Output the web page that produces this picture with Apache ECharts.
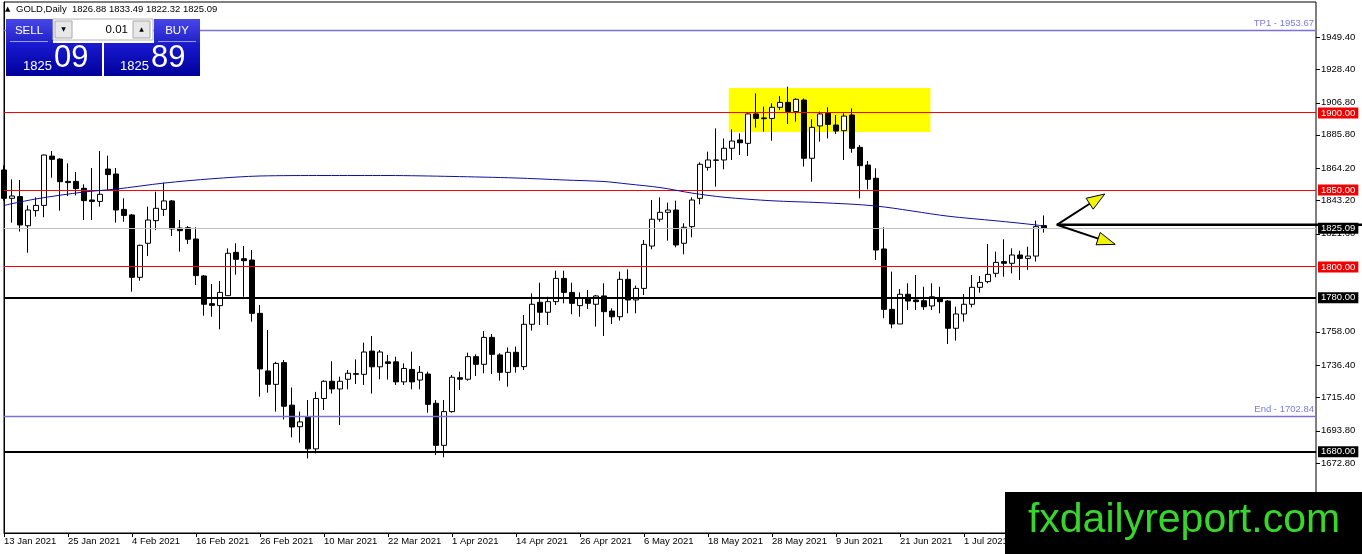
<!DOCTYPE html>
<html><head><meta charset="utf-8">
<script src="https://cdn.jsdelivr.net/npm/echarts@6/dist/echarts.min.js"></script>
<style>html,body{margin:0;padding:0;background:#fff;}#c{width:1362px;height:554px;}</style>
</head><body><div id="c"></div>
<script>
// ---- data (GOLD, Daily) ----
const opens = [1863,1844.6,1845.7,1826.8,1836.6,1840,1872,1870.1,1855.6,1855.6,
1851.1,1843.5,1842.6,1863.6,1860.4,1837.4,1833.8,1793.3,1815.4,1830.1,
1837.4,1842.9,1825.3,1825.5,1818.2,1794.2,1776.2,1774.9,1781.4,1809.5,
1805.4,1804.5,1769.9,1732.5,1723.8,1737.9,1710.3,1696.3,1702.8,1681.9,
1714.6,1725.8,1720.8,1727.1,1730.3,1730.3,1745.4,1735.2,1738.4,1738.4,
1725.4,1733.5,1726.6,1730.5,1711.5,1684.2,1706.1,1728.1,1727.1,1741.8,
1736.8,1754.3,1742.9,1731.6,1744.6,1735.3,1762.8,1777.1,1770.6,1777.5,
1792.6,1783.5,1774.9,1779.7,1775.8,1781.2,1771.4,1767.7,1792,1778.6,
1786.1,1813.6,1831,1835.5,1837,1815.4,1826.2,1844.6,1864.7,1869.5,
1869.5,1877.1,1882.5,1880.3,1899.4,1896.8,1896.5,1903.7,1906.9,1900.9,
1908.4,1870.6,1891.6,1899.8,1892.2,1888.5,1898.7,1877.7,1866.2,1857.6,
1811.7,1772.5,1763,1782.3,1778.6,1778.1,1774.7,1779.7,1777.9,1760.2,
1769.5,1775.8,1786.8,1790.5,1795.9,1803.5,1802.4,1807.8,1805.6,1807.1,
1826.88];
const closes = [1844.6,1846.1,1827.3,1837,1840,1872.7,1869.9,1855.4,1854.8,1850.9,
1843.1,1842.6,1847.2,1860,1837,1833.5,1793.3,1814.1,1830.5,1838.1,
1842.9,1824.7,1823.6,1818,1794.4,1775.8,1775.1,1783.5,1808.9,1805,
1804.1,1769.9,1733.8,1723.8,1737.4,1709.6,1696.1,1699.4,1681.9,1714.6,
1725.8,1720.8,1725.8,1731,1730.8,1744.8,1735.2,1744.8,1737.4,1725.4,
1734.1,1725.4,1731.6,1710.8,1684.2,1706.1,1728.4,1727.1,1741.8,1736.8,
1754.3,1743.3,1731.6,1744.6,1735.3,1762.8,1775.8,1770.6,1777.5,1792.6,
1783.5,1776.4,1779.7,1776.4,1781.2,1771,1767.7,1792,1778.6,1786.1,
1814.7,1831,1835.5,1837,1814.3,1825.8,1843.5,1866.7,1869.5,1869.3,
1877.1,1881.8,1880.7,1899.4,1896.5,1896.3,1903.7,1906.9,1900.9,1908.9,
1870.6,1890.7,1899.4,1892.6,1888.3,1898,1877.1,1865.8,1856.9,1811,
1772.5,1763,1782.3,1777.9,1777.5,1774.2,1780.7,1777.5,1760.2,1769.5,
1775.8,1786.8,1790,1795.2,1803,1802.4,1807.8,1805.6,1807.1,1826.2,
1825.09];
const lows = [1843,1828.8,1823,1809.3,1832.7,1832.3,1858,1836.6,1846.1,1846.5,
1830.5,1830.5,1839.2,1850,1828.8,1829.4,1784,1791.1,1807.1,1824,
1833.1,1820.1,1810,1815,1788.3,1768.4,1767.7,1759.5,1781.4,1795,
1780.7,1764.5,1715.8,1718.4,1706.1,1701,1689.4,1685.9,1675.7,1679,
1707.1,1717.8,1697.4,1720.6,1724,1723.4,1717.8,1727.1,1726.9,1723.4,
1723.4,1720.6,1720.6,1705.4,1677.9,1676.4,1705.4,1720.1,1726.2,1729.2,
1731,1730.5,1726.2,1722.3,1731.4,1733.1,1758.7,1762.3,1762.3,1775.3,
1776.4,1769.3,1767.7,1772.7,1761.3,1755.2,1763,1765.2,1769.9,1769.9,
1781.8,1811.5,1829.4,1817.1,1812.8,1808.2,1819.3,1840.7,1862.6,1852.2,
1863.4,1869.5,1872.7,1872.1,1890.5,1887.9,1882,1901.9,1892.9,1894.4,
1865.2,1855.4,1881.4,1883.5,1886.4,1869.5,1874.2,1844.6,1850.4,1804.5,
1766.7,1760.2,1763,1772.1,1772.1,1772.1,1772.1,1769.9,1750,1752.2,
1764.5,1773.8,1783.3,1789.4,1793.3,1793.7,1795.9,1791.6,1798.1,1803.5,
1822.32];
const highs = [1866,1856.9,1856.5,1840,1845.2,1873,1875.3,1870.6,1867.3,1861.7,
1853.7,1864.3,1875.3,1872.3,1864.3,1844.6,1834.4,1814.5,1839.2,1848.9,
1854.8,1843.5,1830.5,1826.6,1825.8,1794.8,1789,1790.9,1812.1,1815.4,
1813.6,1811,1775.3,1759.1,1738.4,1739.6,1721.8,1706.1,1713.6,1718.9,
1726.4,1738.8,1728.8,1733.1,1740,1750.9,1755.2,1746.1,1742.9,1741.8,
1737.4,1745,1735.7,1732,1713.6,1713.6,1729.9,1732,1744.4,1743.3,
1758.4,1756.5,1744,1747.8,1748.3,1768.8,1782.9,1789.8,1780.7,1797.6,
1797.6,1789.8,1783.5,1785.1,1781.8,1789.4,1773.2,1797,1798.5,1787.9,
1817.5,1843.5,1845.2,1841.8,1843.1,1828.4,1845.2,1868,1874.9,1890,
1883.5,1889.4,1886.8,1899.8,1912.8,1904.1,1906.3,1911,1917.1,1909.5,
1909.5,1895.9,1900.9,1903.7,1898.7,1899.8,1903,1879.2,1868.8,1864.1,
1825.8,1797,1785.7,1789.4,1794.8,1787.2,1789.4,1787.2,1778.6,1774.2,
1782.5,1794.8,1794.2,1814.9,1810,1818,1812.1,1810.6,1813.2,1830.1,
1833.49];
const dateLabels = ['13 Jan 2021','25 Jan 2021','4 Feb 2021','16 Feb 2021','26 Feb 2021','10 Mar 2021','22 Mar 2021','1 Apr 2021','14 Apr 2021','26 Apr 2021','6 May 2021','18 May 2021','28 May 2021','9 Jun 2021','21 Jun 2021','1 Jul 2021','13 Jul 2021'];
const yTicks = [1672.8,1693.8,1715.4,1736.4,1758.0,1821.6,1843.2,1864.2,1885.8,1906.8,1928.4,1949.4];
// moving average read at selected bars
const maIdx = [0,4,10,14,20,26,32,40,48,56,64,70,75,78,82,86,90,96,102,109,118,124,129,130];
const maVal = [1840,1844.2,1848.7,1850.6,1854.5,1857.3,1859.1,1859.4,1859.4,1858.8,1857.8,1856.5,1855.5,1853.9,1851.6,1848,1845.3,1843,1841.8,1839.6,1833,1830,1827.3,1826.4];
const redLevels = [1900, 1850, 1800];
const blackLevels = [1780, 1680];
const tp1 = 1953.67, endLevel = 1702.84, bid = 1825.09, ask = 1825.89, lot = '0.01';
const headerOHLC = [1826.88, 1833.49, 1822.32, 1825.09];
const zone = [90.6, 115.8, 1887.6, 1916.2];          // bar from, bar to, price low, price high
const arrowOrigin = [131.6, 1827.4];
const arrowTips = [[137.6, 1847.4], [138.9, 1814.7]];
const nSlots = 165;

const FONT = '"Liberation Sans", Arial, "DejaVu Sans", sans-serif';
const cats = [];
for (let i = 0; i < nSlots; i++) cats.push(i % 8 === 0 && dateLabels[i / 8] ? dateLabels[i / 8] : String(i));

const chart = echarts.init(document.getElementById('c'));
const LG = (a, b) => new echarts.graphic.LinearGradient(0, 0, 0, 1, [{offset: 0, color: a}, {offset: 1, color: b}]);

// level lines (drawn crisply by a custom series) + their axis labels (markLine labels only)
const levelVals = [], levelStyle = [];
redLevels.forEach(v => { levelVals.push(v); levelStyle.push(['#ff0000', 1]); });
blackLevels.forEach(v => { levelVals.push(v); levelStyle.push(['#000000', 2]); });
levelVals.push(bid); levelStyle.push(['#c0c0c0', 1]);
levelVals.push(tp1); levelStyle.push(['#7a70d8', 1.5]);
levelVals.push(endLevel); levelStyle.push(['#7a70d8', 1.5]);

const HIDDEN = {color: 'rgba(255,255,255,0)', width: 0.01, type: 'solid'};
const boxLabel = (v, bg) => ({yAxis: v, lineStyle: HIDDEN,
  label: {show: true, position: 'end', formatter: v.toFixed(2), color: '#fff', backgroundColor: bg,
    padding: [1, 3, 0, 3], fontSize: 9.5, fontFamily: FONT, distance: 2}});
const markData = [];
redLevels.forEach(v => markData.push(boxLabel(v, '#f00000')));
blackLevels.forEach(v => markData.push(boxLabel(v, '#000')));
markData.push(boxLabel(bid, '#000'));
[[tp1, 'TP1 - '], [endLevel, 'End - ']].forEach(([v, t]) => markData.push({
  yAxis: v, lineStyle: HIDDEN,
  label: {show: true, position: 'insideEndTop', formatter: t + v.toFixed(2), color: '#7b7bdb',
    fontSize: 9.5, fontFamily: FONT, distance: 2}
}));

const graphics = [
  {type: 'text', z: 100, style: {text: '\u25B2', x: 5, y: 9, fontSize: 7, fill: '#000', verticalAlign: 'middle', fontFamily: '"DejaVu Sans"'}},
  {type: 'text', z: 100, style: {text: 'GOLD,Daily  ' + headerOHLC.map(v => v.toFixed(2)).join(' '), x: 16, y: 9.5, fontSize: 9.5, fontFamily: FONT, fill: '#000', verticalAlign: 'middle'}},
  // SELL button
  {type: 'rect', z: 100, shape: {x: 6, y: 19, width: 47, height: 24}, style: {fill: LG('#4747e8', '#2020c8')}},
  {type: 'text', z: 101, style: {text: 'SELL', x: 29, y: 30.5, align: 'center', verticalAlign: 'middle', fontSize: 11.5, fontFamily: FONT, fill: '#fff'}},
  {type: 'line', z: 101, shape: {x1: 10, y1: 41.5, x2: 48, y2: 41.5}, style: {stroke: '#9999ff', lineWidth: 1}},
  // lot spinner
  {type: 'rect', z: 100, shape: {x: 53, y: 19, width: 100, height: 21}, style: {fill: '#fff', stroke: '#b4b4b4', lineWidth: 1}},
  {type: 'rect', z: 101, shape: {x: 55, y: 21, width: 17, height: 17}, style: {fill: '#e8e8e8', stroke: '#a8a8a8', lineWidth: 1}},
  {type: 'text', z: 102, style: {text: '\u25BC', x: 63.5, y: 29.5, align: 'center', verticalAlign: 'middle', fontSize: 6, fontFamily: '"DejaVu Sans"', fill: '#000'}},
  {type: 'text', z: 101, style: {text: lot, x: 128, y: 30, align: 'right', verticalAlign: 'middle', fontSize: 11.5, fontFamily: FONT, fill: '#000'}},
  {type: 'rect', z: 101, shape: {x: 133, y: 21, width: 17, height: 17}, style: {fill: '#e8e8e8', stroke: '#a8a8a8', lineWidth: 1}},
  {type: 'text', z: 102, style: {text: '\u25B2', x: 141.5, y: 29.5, align: 'center', verticalAlign: 'middle', fontSize: 6, fontFamily: '"DejaVu Sans"', fill: '#000'}},
  // BUY button
  {type: 'rect', z: 100, shape: {x: 154, y: 19, width: 46, height: 24}, style: {fill: LG('#4747e8', '#2020c8')}},
  {type: 'text', z: 101, style: {text: 'BUY', x: 177, y: 30.5, align: 'center', verticalAlign: 'middle', fontSize: 11.5, fontFamily: FONT, fill: '#fff'}},
  {type: 'line', z: 101, shape: {x1: 158, y1: 41.5, x2: 196, y2: 41.5}, style: {stroke: '#9999ff', lineWidth: 1}},
  // price panels
  {type: 'rect', z: 100, shape: {x: 6, y: 43, width: 96, height: 33}, style: {fill: LG('#1a1ad2', '#00009a')}},
  {type: 'text', z: 101, style: {text: String(Math.floor(bid)), x: 23, y: 66, verticalAlign: 'middle', fontSize: 13, fontFamily: FONT, fill: '#fff'}},
  {type: 'text', z: 101, style: {text: bid.toFixed(2).split('.')[1], x: 54, y: 58, verticalAlign: 'middle', fontSize: 31, fontFamily: FONT, fill: '#fff'}},
  {type: 'rect', z: 100, shape: {x: 104, y: 43, width: 96, height: 33}, style: {fill: LG('#1a1ad2', '#00009a')}},
  {type: 'text', z: 101, style: {text: String(Math.floor(ask)), x: 120, y: 66, verticalAlign: 'middle', fontSize: 13, fontFamily: FONT, fill: '#fff'}},
  {type: 'text', z: 101, style: {text: ask.toFixed(2).split('.')[1], x: 151, y: 58, verticalAlign: 'middle', fontSize: 31, fontFamily: FONT, fill: '#fff'}},
  // watermark
  {type: 'rect', z: 120, shape: {x: 1005, y: 492, width: 357, height: 62}, style: {fill: '#000'}},
  {type: 'text', z: 121, style: {text: 'fxdailyreport.com', x: 1184, y: 521, align: 'center', verticalAlign: 'middle', fontSize: 41, fontFamily: FONT, fill: '#38d62a'}}
];

const option = {
  animation: false,
  backgroundColor: '#fff',
  grid: {left: 4, right: 46, top: 2, bottom: 21, show: true, borderColor: '#000', borderWidth: 1, backgroundColor: 'transparent'},
  xAxis: [
    {type: 'category', data: cats, boundaryGap: false,
      axisLine: {show: true, lineStyle: {color: '#000'}},
      axisTick: {show: true, interval: 7, length: 4, lineStyle: {color: '#000'}},
      axisLabel: {interval: 7, align: 'left', margin: 3, fontSize: 9.5, fontFamily: FONT, color: '#000', showMaxLabel: false,
        formatter: (v, idx) => (idx % 8 === 0 && dateLabels[idx / 8]) ? dateLabels[idx / 8] : ''},
      splitLine: {show: false}},
    {type: 'value', min: 0, max: nSlots - 1, show: false}
  ],
  yAxis: [{type: 'value', position: 'right', min: 1627.27, max: 1972.08, scale: true,
    splitLine: {show: false}, minorTick: {show: false},
    axisLine: {show: true, lineStyle: {color: '#000'}},
    axisTick: {show: false},
    axisLabel: {customValues: yTicks, formatter: v => v.toFixed(2), fontSize: 9.5, fontFamily: FONT, color: '#000', margin: 5}}],
  graphic: graphics,
  series: [
    {type: 'custom', name: 'zone', xAxisIndex: 1, yAxisIndex: 0, z: 1, silent: true, clip: false,
      data: [zone], encode: {x: [0, 1], y: [2, 3]},
      renderItem: (p, api) => {
        const a = api.coord([api.value(0), api.value(3)]);
        const b = api.coord([api.value(1), api.value(2)]);
        return {type: 'rect', shape: {x: a[0], y: a[1], width: b[0] - a[0], height: b[1] - a[1]}, style: {fill: '#ffff00'}};
      }},
    {type: 'candlestick', xAxisIndex: 0, yAxisIndex: 0, z: 2, clip: false, barWidth: 5, silent: true,
      data: opens.map((o, i) => [o, closes[i], lows[i], highs[i]]),
      itemStyle: {color: '#fff', color0: '#000', borderColor: '#000', borderColor0: '#000', borderWidth: 1}},
    {type: 'custom', name: 'levels', xAxisIndex: 1, yAxisIndex: 0, z: 3, silent: true, clip: false,
      data: levelVals.map(v => [0, v]), encode: {x: 0, y: 1},
      renderItem: (p, api) => {
        const a = api.coord([0, api.value(1)]);
        const b = api.coord([nSlots - 1, api.value(1)]);
        const [col, w] = levelStyle[p.dataIndex];
        let y;
        if (w === 2) y = Math.round(a[1]);
        else { let r = Math.round(a[1] - 0.5); if (r % 2) r -= 1; y = r + 0.5; }
        return {type: 'line', shape: {x1: a[0], y1: y, x2: b[0], y2: y}, style: {stroke: col, lineWidth: w}};
      }},
    {type: 'line', xAxisIndex: 1, yAxisIndex: 0, z: 7, data: [], silent: true,
      markLine: {silent: true, symbol: ['none', 'none'], animation: false, data: markData}},
    {type: 'line', name: 'MA', xAxisIndex: 1, yAxisIndex: 0, z: 4, silent: true, symbol: 'none', smooth: 0.3,
      data: maIdx.map((x, k) => [x, maVal[k]]), lineStyle: {color: '#1010a0', width: 1}},
    {type: 'custom', name: 'yticks', xAxisIndex: 1, yAxisIndex: 0, z: 5, silent: true, clip: false,
      data: yTicks.map(v => [nSlots - 1, v]), encode: {x: 0, y: 1},
      renderItem: (p, api) => {
        const a = api.coord([api.value(0), api.value(1)]);
        const y = Math.round(a[1]) + 0.5;
        return {type: 'line', shape: {x1: a[0], y1: y, x2: a[0] + 4, y2: y}, style: {stroke: '#000', lineWidth: 1}};
      }},
    {type: 'custom', name: 'hline', xAxisIndex: 1, yAxisIndex: 0, z: 5, silent: true, clip: false,
      data: [arrowOrigin], encode: {x: 0, y: 1},
      renderItem: (p, api) => {
        const a = api.coord([api.value(0), api.value(1)]);
        return {type: 'line', shape: {x1: a[0], y1: a[1], x2: api.getWidth(), y2: a[1]}, style: {stroke: '#000', lineWidth: 2.5}};
      }},
    {type: 'custom', name: 'arrows', xAxisIndex: 1, yAxisIndex: 0, z: 6, silent: true, clip: false,
      data: arrowTips.map(t => [arrowOrigin[0], arrowOrigin[1], t[0], t[1]]), encode: {x: [0, 2], y: [1, 3]},
      renderItem: (p, api) => {
        const a = api.coord([api.value(0), api.value(1)]);
        const b = api.coord([api.value(2), api.value(3)]);
        const dx = b[0] - a[0], dy = b[1] - a[1], L = Math.hypot(dx, dy);
        const ux = dx / L, uy = dy / L, nx = -uy, ny = ux;
        const hl = 18, hw = 6.5;
        const bc = [b[0] - ux * hl, b[1] - uy * hl];
        return {type: 'group', children: [
          {type: 'line', shape: {x1: a[0], y1: a[1], x2: bc[0], y2: bc[1]}, style: {stroke: '#000', lineWidth: 2}},
          {type: 'polygon', shape: {points: [b, [bc[0] + nx * hw, bc[1] + ny * hw], [bc[0] - nx * hw, bc[1] - ny * hw]]},
            style: {fill: '#f2f20a', stroke: '#000', lineWidth: 1}}
        ]};
      }}
  ]
};
chart.setOption(option);
</script>
</body></html>
